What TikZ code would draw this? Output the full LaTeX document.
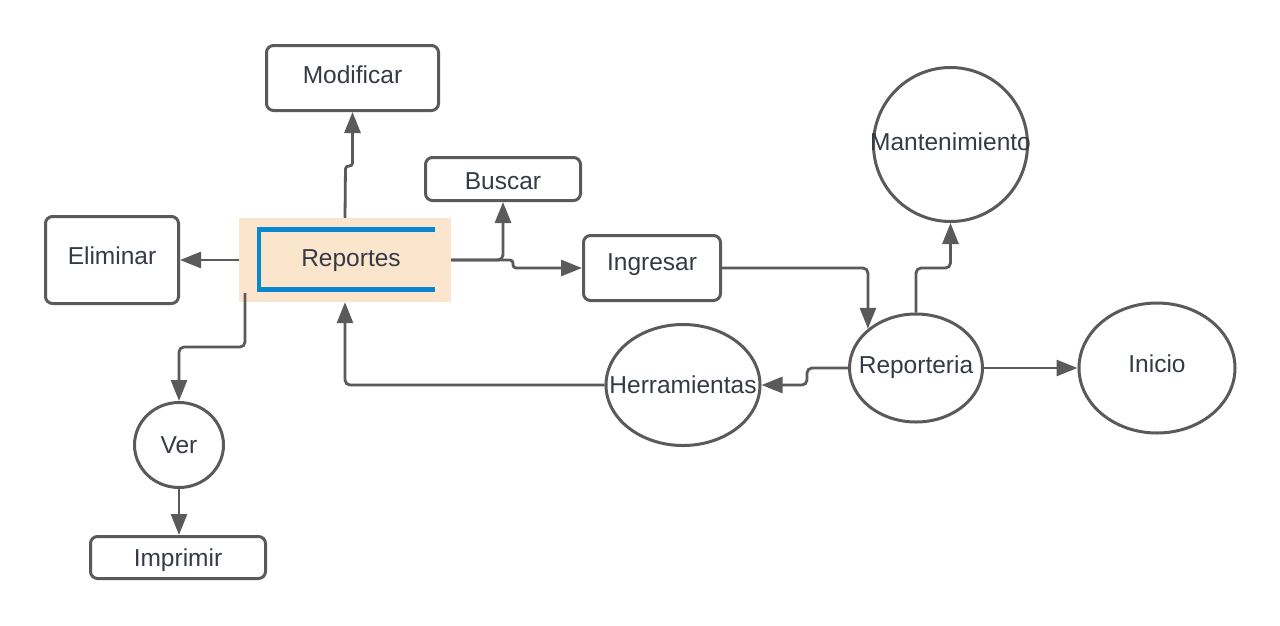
\documentclass[tikz,border=0pt]{standalone}
\usepackage{fontspec}
\setmainfont{Liberation Sans}
\usetikzlibrary{arrows.meta,shapes.geometric}
\definecolor{lineg}{HTML}{5A5A5A}
\definecolor{txtc}{HTML}{353B45}
\definecolor{peach}{HTML}{FBE5CD}
\definecolor{bblue}{HTML}{0A88CF}
\tikzset{
  every label/.style={text=txtc, font=\fontsize{24.5}{28}\selectfont, inner sep=0pt},
  boxn/.style={draw=lineg, line width=3pt, rounded corners=7pt, fill=white, inner sep=0pt},
  elln/.style={draw=lineg, line width=3pt, ellipse, fill=white, inner sep=0pt},
  conn/.style={draw=lineg, line width=2.8pt, rounded corners=5pt, -{Triangle[length=21pt,width=16pt]}},
  jog/.style={rounded corners=3pt},
}
\begin{document}
\begin{tikzpicture}[x=1pt,y=-1pt]
\useasboundingbox[fill=white] (0,0) rectangle (1280,625);
% nodes
\node[fill=peach, minimum width=212pt, minimum height=84pt, inner sep=0pt] (rep) at (345,260) {};
\draw[bblue, line width=4.5pt] (435,229.5) -- (259,229.5) -- (259,289.5) -- (435,289.5);
\node[inner sep=0pt, text=txtc, font=\fontsize{24.5}{28}\selectfont] (reptxt) at (351,261) {Reportes};
\node[boxn, minimum width=172pt, minimum height=65pt, label={[yshift=3.5pt]center:Modificar}] (mod) at (352.5,78) {};
\node[boxn, minimum width=155pt, minimum height=43pt, label={[yshift=-2.5pt]center:Buscar}] (bus) at (503,179) {};
\node[boxn, minimum width=133pt, minimum height=87pt, label={[yshift=4pt]center:Eliminar}] (eli) at (112,260) {};
\node[boxn, minimum width=137pt, minimum height=65pt, label={[yshift=3pt]center:Ingresar}] (ing) at (652,268) {};
\node[boxn, minimum width=175pt, minimum height=42pt, label={[yshift=-3pt]center:Imprimir}] (imp) at (178,557.5) {};
\node[elln, minimum width=154pt, minimum height=154pt, label={[yshift=3pt]center:Mantenimiento}] (man) at (950.5,144.5) {};
\node[elln, minimum width=133pt, minimum height=108pt, label={[yshift=1pt]center:Reporteria}] (repo) at (916,368) {};
\node[elln, minimum width=154pt, minimum height=121pt, label=center:Herramientas] (her) at (683,385) {};
\node[elln, minimum width=156pt, minimum height=130pt, label={[yshift=4pt]center:Inicio}] (ini) at (1157,368) {};
\node[elln, minimum width=89pt, minimum height=85pt, label=center:Ver] (ver) at (179,445) {};
% connectors
\coordinate (repv) at (245,293);
\draw[conn, jog] (rep.north) -- (345.5,166) -- (352.5,166) -- (mod.south);
\draw[conn] (rep.east) -| (bus.south);
\draw[conn, jog] (rep.east) -- (513,260) -- (513,268) -- (ing.west);
\draw[conn] (rep.west) -- (eli.east);
\draw[conn] (repv) -- (245,347) -- (179,347) -- (ver.north);
\draw[conn] (ver.south) -- (ver.south |- imp.north);
\draw[conn] (ing.east) -| (repo.north west);
\draw[conn] (repo.north) -- (916,268) -| (man.south);
\draw[conn] (repo.west) -- (807,368) -- (807,385) -- (her.east);
\draw[conn] (her.west) -| (rep.south);
\draw[conn] (repo.east) -- (ini.west);
\end{tikzpicture}
\end{document}
